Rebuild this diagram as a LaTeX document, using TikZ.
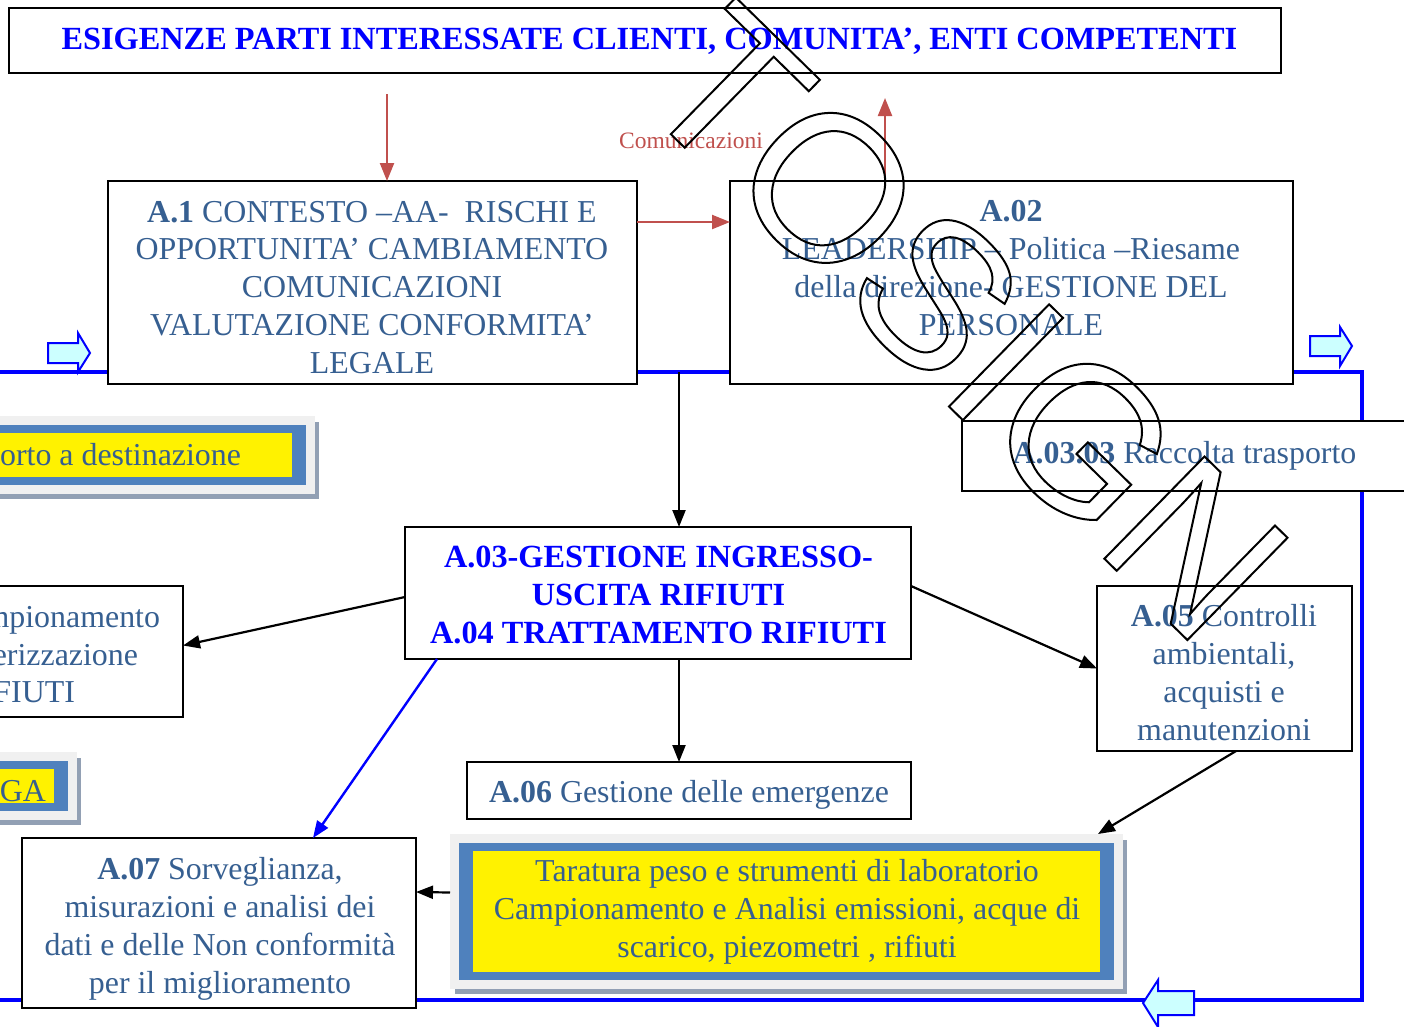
\documentclass[tikz,border=0pt]{standalone}
\usepackage{fontspec}
\setmainfont{Liberation Serif}
\newfontfamily\wmfont{Liberation Sans}
\usetikzlibrary{arrows.meta}
\definecolor{txtblue}{RGB}{54,95,145}
\definecolor{ttlblue}{RGB}{0,0,255}
\definecolor{redarr}{RGB}{192,80,77}
\definecolor{frgray}{RGB}{240,240,240}
\definecolor{shgray}{RGB}{146,160,180}
\definecolor{frblue}{RGB}{79,129,189}
\definecolor{cyanfill}{RGB}{204,255,255}
\newcommand\outlinetext[1]{\special{pdf:literal direct 1 Tr 2 w}#1\special{pdf:literal direct 0 Tr}}
\begin{document}
\begin{tikzpicture}[x=1pt,y=-1pt,
  every node/.style={inner sep=0pt, outer sep=0pt},
  boxs/.style={draw=black, line width=2.7pt, fill=white, rectangle, anchor=north west},
  txt/.style={align=center, text=txtblue, font=\fontsize{31.9}{37.7}\selectfont, anchor=base},
  ttl/.style={align=center, text=ttlblue, font=\bfseries\fontsize{32.3}{38}\selectfont, anchor=base},
  arr/.style={draw=black, line width=2.2pt, -{Triangle[length=17pt,width=13pt]}},
  rarr/.style={draw=redarr, line width=2.2pt, -{Triangle[length=18pt,width=14pt]}},
  barr/.style={draw=ttlblue, line width=2.4pt, -{Triangle[length=17pt,width=13pt]}},
  loopline/.style={draw=ttlblue, line width=3.5pt},
  blockarr/.style={draw=ttlblue, fill=cyanfill, line width=2pt, line join=miter},
]
\useasboundingbox (0,0) rectangle (1404,1026);
\fill[white] (0,0) rectangle (1404,1026);

% loop line
\coordinate (l1) at (0,372);
\coordinate (l2) at (1362,372);
\coordinate (l3) at (1362,1000);
\coordinate (l4) at (0,1000);
\draw[loopline] (l1) -- (l2) -- (l3) -- (l4);

% boxes
\node[boxs, minimum width=1272, minimum height=65] (ttlbox) at (9,8) {};
\node[boxs, minimum width=529, minimum height=203] (a1) at (108,181) {};
\node[boxs, minimum width=563, minimum height=203] (a02) at (730,181) {};
\node[boxs, minimum width=470, minimum height=70] (a0303) at (962,421) {};
\node[boxs, minimum width=506, minimum height=132] (a03) at (405,527) {};
\node[boxs, minimum width=213, minimum height=131] (lbox) at (-30,586) {};
\node[boxs, minimum width=255, minimum height=165] (a05) at (1097,586) {};
\node[boxs, minimum width=444, minimum height=57] (a06) at (467,762) {};
\node[boxs, minimum width=394, minimum height=170] (a07) at (22,838) {};

% yellow framed boxes
\newcommand\yframe[5]{%
  \fill[shgray] (#2+5,#3+6) rectangle (#4+4,#5+5);
  \node[fill=frgray, anchor=north west, minimum width={#4-#2}, minimum height={#5-#3}] (#1) at (#2,#3) {};
  \fill[frblue] (#2+9,#3+9) rectangle (#4-9,#5-9);
  \fill[yellow] (#2+23,#3+17) rectangle (#4-23,#5-17);
}
\yframe{ortoF}{-60}{416}{315}{494}
\yframe{gaF}{-60}{752}{77}{820}
\yframe{labF}{450}{834}{1123}{989}

% connectors
\coordinate (rtop) at (387,94);
\coordinate (rup) at (885,98);
\coordinate (rmid) at (0,222);
\coordinate (j1) at (679,372);
\draw[rarr] (rtop) -- (rtop |- a1.north);
\draw[rarr] (rup |- a02.north) -- (rup);
\draw[rarr] (a1.east |- rmid) -- (a02.west |- rmid);
\draw[arr] (j1) -- (j1 |- a03.north);
\draw[arr] ([yshift=-4pt]a03.west) -- ([yshift=6pt]lbox.east);
\draw[arr] ([yshift=7pt]a03.east) -- (a05.west);
\draw[arr] (a03.south -| j1) -- (a06.north -| j1);
\draw[arr] ([xshift=11.5pt]a05.south) -- ([xshift=-25pt]labF.north east);
\draw[barr] ([xshift=32pt]a03.south west) -- ([xshift=94pt]a07.north);
\draw[arr] ([yshift=19pt]labF.west) -- ([yshift=31pt]a07.east);

% block arrows
\draw[blockarr] (48,343) -- (78,343) -- (78,333) -- (90,353) -- (78,372) -- (78,363) -- (48,363) -- cycle;
\draw[blockarr] (1310,336) -- (1340,336) -- (1340,327) -- (1352,346) -- (1340,366) -- (1340,356) -- (1310,356) -- cycle;
\draw[blockarr] (1194,991) -- (1158,991) -- (1158,980) -- (1143,1003) -- (1158,1027) -- (1158,1015) -- (1194,1015) -- cycle;

% texts (anchor base = baseline of the last line)
\node[ttl] (ttlT) at (649.5,49.5) {ESIGENZE PARTI INTERESSATE CLIENTI, COMUNITA’, ENTI COMPETENTI};
\node[anchor=base, text=redarr, font=\fontsize{23.5}{28}\selectfont] (comT) at (691,148) {Comunicazioni};
\node[txt] (a1T) at (372,373) {\textbf{A.1} CONTESTO –AA-\ \ RISCHI E\\OPPORTUNITA’ CAMBIAMENTO\\COMUNICAZIONI\\VALUTAZIONE CONFORMITA’\\LEGALE};
\node[txt] (a02T) at (1011,335) {\textbf{A.02}\\LEADERSHIP – Politica –Riesame\\della direzione- GESTIONE DEL\\PERSONALE};
\node[txt] (a0303T) at (1184.5,463) {\textbf{A.03.03} Raccolta trasporto};
\node[txt, anchor=base east] (ortoT) at (241,465) {orto a destinazione};
\node[txt, anchor=base east] (lb1) at (160,627) {mpionamento};
\node[txt, anchor=base east] (lb2) at (138,665) {erizzazione};
\node[txt, anchor=base east] (lb3) at (75,702) {FIUTI};
\node[txt, anchor=base east] (gaT) at (46,801) {GA};
\node[ttl] (a03T) at (658.5,643) {A.03-GESTIONE INGRESSO-\\USCITA RIFIUTI\\A.04 TRATTAMENTO RIFIUTI};
\node[txt] (a05T) at (1224,740) {\textbf{A.05} Controlli\\ambientali,\\acquisti e\\manutenzioni};
\node[txt] (a06T) at (689,802) {\textbf{A.06} Gestione delle emergenze};
\node[txt] (a07T) at (220,993) {\textbf{A.07} Sorveglianza,\\misurazioni e analisi dei\\dati e delle Non conformità\\per il miglioramento};
\node[txt] (labT) at (787,957) {Taratura peso e strumenti di laboratorio\\Campionamento e Analisi emissioni, acque di\\scarico, piezometri , rifiuti};

% watermark
\node[rotate=-44.4, font=\wmfont\fontsize{208}{208}\selectfont] (wm) at (966,323) {\outlinetext{TOSIGN}};
\end{tikzpicture}
\end{document}
